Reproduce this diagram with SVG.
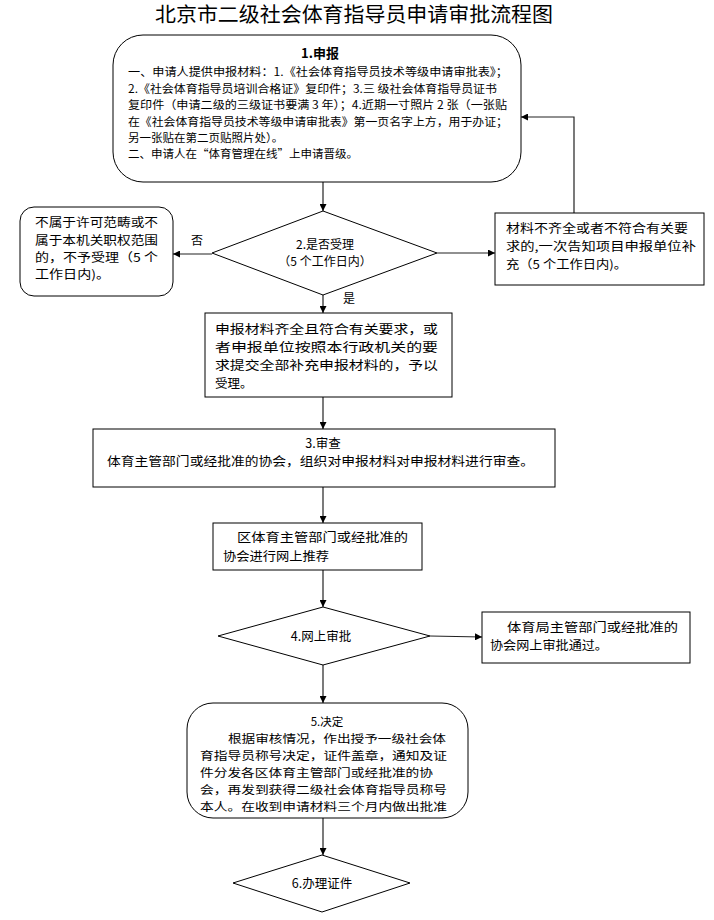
<svg xmlns="http://www.w3.org/2000/svg" width="714" height="920" viewBox="0 0 714 920">
<style>
  .bg{fill:#ffffff}
  .box{fill:#ffffff;stroke:#000000;stroke-width:1}
  .t{font-family:"Noto Sans CJK SC","Noto Sans",sans-serif;fill:#000000}
  .s12{font-size:11.5px}
  .s13{font-size:12.5px}
  .title{font-family:"Noto Sans CJK SC",serif;font-size:20px;fill:#000}
  .c{fill:none;stroke:#222222;stroke-width:1.2}
  .lbl{font-family:"Noto Sans CJK SC",sans-serif;font-size:12px;fill:#000}
</style>
<defs>
  <marker id="ah" viewBox="0 0 10 10" refX="10" refY="5" markerWidth="7" markerHeight="7" orient="auto" markerUnits="userSpaceOnUse">
    <path d="M0,0 L10,5 L0,10 z" fill="#000"/>
  </marker>
</defs>
<rect class="bg" x="0" y="0" width="714" height="920"/>

<text class="title" x="354" y="22" text-anchor="middle" textLength="398" lengthAdjust="spacingAndGlyphs">北京市二级社会体育指导员申请审批流程图</text>

<g id="connectors">
  <line class="c" x1="323" y1="182" x2="323" y2="211" marker-end="url(#ah)"/>
  <line class="c" x1="212" y1="254" x2="173" y2="254" marker-end="url(#ah)"/>
  <line class="c" x1="437" y1="253" x2="495" y2="253" marker-end="url(#ah)"/>
  <polyline class="c" points="574,213 574,117 521,117" marker-end="url(#ah)"/>
  <line class="c" x1="323" y1="295" x2="323" y2="313" marker-end="url(#ah)"/>
  <line class="c" x1="323" y1="397" x2="323" y2="429" marker-end="url(#ah)"/>
  <line class="c" x1="323" y1="487" x2="323" y2="523" marker-end="url(#ah)"/>
  <line class="c" x1="323" y1="570" x2="323" y2="607" marker-end="url(#ah)"/>
  <line class="c" x1="430" y1="636" x2="482" y2="637" marker-end="url(#ah)"/>
  <line class="c" x1="323" y1="665" x2="323" y2="703" marker-end="url(#ah)"/>
  <line class="c" x1="323" y1="818" x2="323" y2="855" marker-end="url(#ah)"/>
  <text class="lbl" x="191" y="245">否</text>
  <text class="lbl" x="343" y="303">是</text>
</g>

<g id="n1">
  <rect class="box" x="113" y="35" width="408" height="147" rx="30" ry="30"/>
  <text class="t" x="320" y="58" text-anchor="middle" font-size="13" font-weight="bold">1.申报</text>
  <text class="t s12" x="128" y="76" textLength="380" lengthAdjust="spacingAndGlyphs">一、申请人提供申报材料：1.《社会体育指导员技术等级申请审批表》；</text>
  <text class="t s12" x="128" y="93" textLength="369" lengthAdjust="spacingAndGlyphs">2.《社会体育指导员培训合格证》复印件；3.三 级社会体育指导员证书</text>
  <text class="t s12" x="128" y="109" textLength="379" lengthAdjust="spacingAndGlyphs">复印件（申请二级的三级证书要满 3 年）；4.近期一寸照片 2 张（一张贴</text>
  <text class="t s12" x="128" y="126" textLength="380" lengthAdjust="spacingAndGlyphs">在《社会体育指导员技术等级申请审批表》第一页名字上方，用于办证；</text>
  <text class="t s12" x="128" y="142">另一张贴在第二页贴照片处）。</text>
  <text class="t s12" x="128" y="158">二、申请人在“体育管理在线”上申请晋级。</text>
</g>

<g id="n2">
  <polygon class="box" points="323,211 437,253 323,295 212,253"/>
  <text class="t" font-size="12" x="325" y="249" text-anchor="middle">2.是否受理</text>
  <text class="t" font-size="12" x="325" y="266" text-anchor="middle">（5 个工作日内）</text>
</g>

<g id="n2no">
  <rect class="box" x="20" y="207" width="153" height="89" rx="14" ry="14"/>
  <text class="t" font-size="12" x="35" y="227" textLength="123" lengthAdjust="spacingAndGlyphs">不属于许可范畴或不</text>
  <text class="t" font-size="12" x="35" y="245" textLength="123" lengthAdjust="spacingAndGlyphs">属于本机关职权范围</text>
  <text class="t" font-size="12" x="35" y="262" textLength="123" lengthAdjust="spacingAndGlyphs">的，不予受理（5 个</text>
  <text class="t" font-size="12" x="35" y="279" textLength="75" lengthAdjust="spacingAndGlyphs">工作日内)。</text>
</g>

<g id="n2sup">
  <rect class="box" x="495" y="213" width="209" height="72"/>
  <text class="t" font-size="12" x="506" y="233" textLength="182" lengthAdjust="spacingAndGlyphs">材料不齐全或者不符合有关要</text>
  <text class="t" font-size="12" x="506" y="251" textLength="190" lengthAdjust="spacingAndGlyphs">求的,一次告知项目申报单位补</text>
  <text class="t" font-size="12" x="506" y="269" textLength="121" lengthAdjust="spacingAndGlyphs">充（5 个工作日内)。</text>
</g>

<g id="n2yes">
  <rect class="box" x="205" y="313" width="247" height="84"/>
  <text class="t s13" x="215" y="334" textLength="223" lengthAdjust="spacingAndGlyphs">申报材料齐全且符合有关要求，或</text>
  <text class="t s13" x="215" y="352" textLength="223" lengthAdjust="spacingAndGlyphs">者申报单位按照本行政机关的要</text>
  <text class="t s13" x="215" y="370" textLength="223" lengthAdjust="spacingAndGlyphs">求提交全部补充申报材料的，予以</text>
  <text class="t s13" x="215" y="388">受理。</text>
</g>

<g id="n3">
  <rect class="box" x="93" y="429" width="462" height="58"/>
  <text class="t s13" x="323" y="448" text-anchor="middle">3.审查</text>
  <text class="t s13" x="107" y="466" textLength="427" lengthAdjust="spacingAndGlyphs">体育主管部门或经批准的协会，组织对申报材料对申报材料进行审查。</text>
</g>

<g id="n3b">
  <rect class="box" x="213" y="523" width="209" height="47"/>
  <text class="t s13" x="237" y="542" textLength="171" lengthAdjust="spacingAndGlyphs">区体育主管部门或经批准的</text>
  <text class="t s13" x="223" y="561" textLength="106" lengthAdjust="spacingAndGlyphs">协会进行网上推荐</text>
</g>

<g id="n4">
  <polygon class="box" points="323,607 430,636 323,665 218,636"/>
  <text class="t s13" x="321" y="641" text-anchor="middle">4.网上审批</text>
</g>

<g id="n4b">
  <rect class="box" x="482" y="612" width="208" height="51"/>
  <text class="t s13" x="507" y="632" textLength="171" lengthAdjust="spacingAndGlyphs">体育局主管部门或经批准的</text>
  <text class="t s13" x="490" y="650" textLength="118" lengthAdjust="spacingAndGlyphs">协会网上审批通过。</text>
</g>

<g id="n5">
  <rect class="box" x="187" y="703" width="281" height="115" rx="26" ry="26"/>
  <text class="t" font-size="11.5" x="327" y="726" text-anchor="middle">5.决定</text>
  <text class="t" font-size="11.5" x="228" y="743" textLength="218" lengthAdjust="spacingAndGlyphs">根据审核情况，作出授予一级社会体</text>
  <text class="t" font-size="11.5" x="200" y="760" textLength="247" lengthAdjust="spacingAndGlyphs">育指导员称号决定，证件盖章，通知及证</text>
  <text class="t" font-size="11.5" x="200" y="777" textLength="233" lengthAdjust="spacingAndGlyphs">件分发各区体育主管部门或经批准的协</text>
  <text class="t" font-size="11.5" x="200" y="794" textLength="247" lengthAdjust="spacingAndGlyphs">会，再发到获得二级社会体育指导员称号</text>
  <text class="t" font-size="11.5" x="200" y="811" textLength="247" lengthAdjust="spacingAndGlyphs">本人。在收到申请材料三个月内做出批准</text>
</g>

<g id="n6">
  <polygon class="box" points="322,855 410,883 322,912 233,883"/>
  <text class="t s13" x="322" y="888" text-anchor="middle">6.办理证件</text>
</g>
</svg>
